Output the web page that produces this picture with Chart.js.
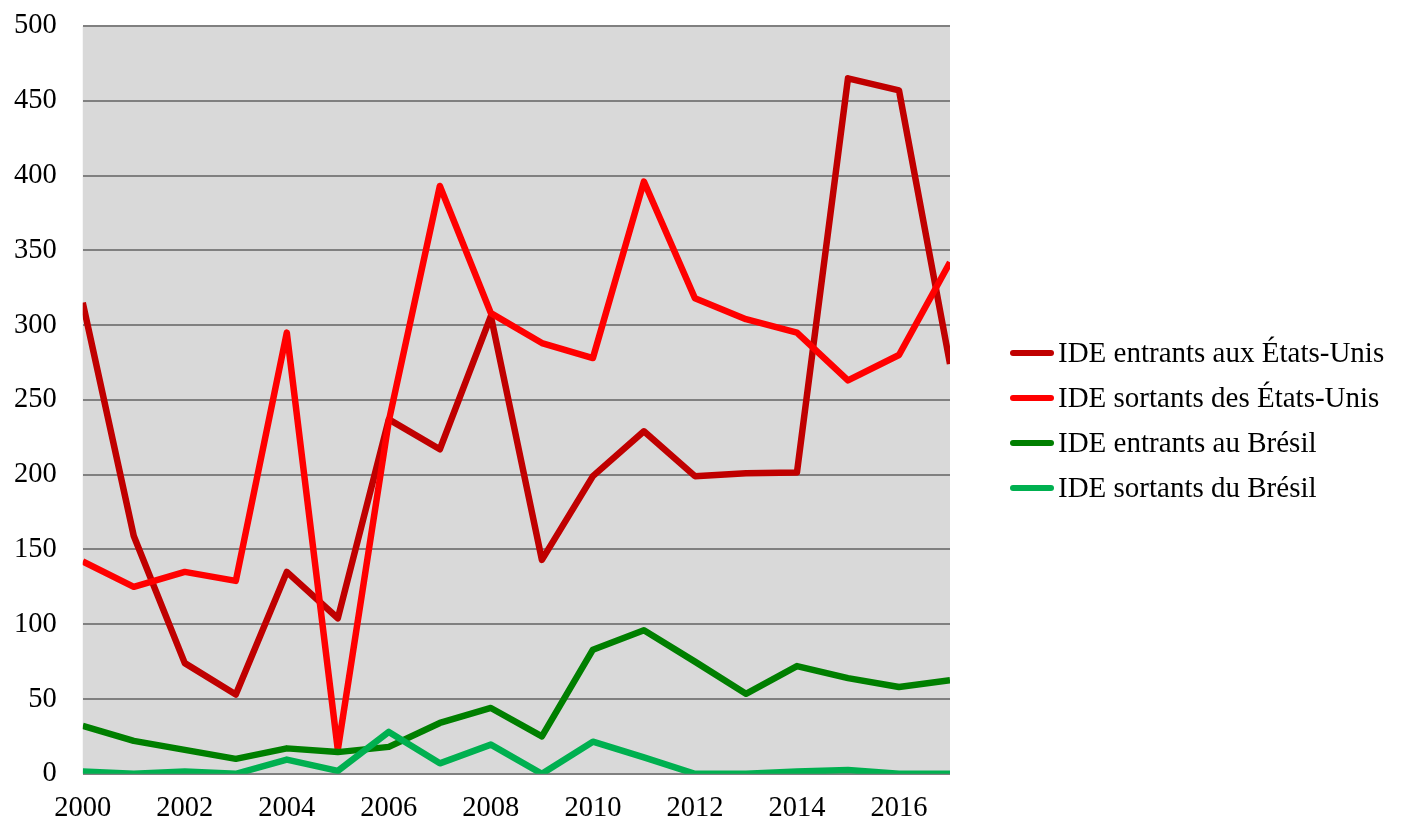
<!DOCTYPE html>
<html>
<head>
<meta charset="utf-8">
<script src="https://cdn.jsdelivr.net/npm/chart.js@4/dist/chart.umd.min.js"></script>
<style>
  body { margin: 0; background: #fff; }
  #wrap { position: relative; width: 1406px; height: 838px; }
  #legend { position: absolute; left: 1010px; top: 330px; font-family: "Liberation Serif", "Times New Roman", serif; font-size: 29px; color: #000; }
  .row { display: flex; align-items: center; height: 45px; white-space: nowrap; }
  .swatch { width: 44px; height: 6px; border-radius: 3px; margin-right: 4px; }
</style>
</head>
<body>
<div id="wrap">
  <canvas id="chart"></canvas>
  <div id="legend"></div>
</div>
<script>
const years = ["2000","2001","2002","2003","2004","2005","2006","2007","2008","2009","2010","2011","2012","2013","2014","2015","2016","2017"];
const usIn = [315, 159, 74, 53, 135, 104, 237, 217, 306, 143, 199, 229, 199, 201, 201.5, 465, 457, 274];
const usOut = [142, 125, 135, 129, 295, 16, 236, 393, 308, 288, 278, 396, 318, 304, 295, 263, 280, 342];
const brIn = [32, 22, 16, 10, 17, 14.5, 18, 34, 44, 25, 83, 96, 75, 53.5, 72, 64, 58, 62.5];
const brOut = [1.5, 0, 1.5, 0, 9.5, 2, 28, 7, 19.5, 0, 21.5, 11, 0, 0, 1.5, 2.5, 0, 0];
const seriesNames = ["IDE entrants aux États-Unis", "IDE sortants des États-Unis", "IDE entrants au Brésil", "IDE sortants du Brésil"];
const seriesColors = ["#C00000", "#FF0000", "#007F00", "#00B050"];

const FONT = "'Liberation Serif', 'Times New Roman', serif";

const plotBg = {
  id: "plotBg",
  beforeDraw(chart) {
    const { ctx, chartArea: a } = chart;
    ctx.save();
    ctx.fillStyle = "#D9D9D9";
    ctx.fillRect(a.left, a.top, a.right - a.left, a.bottom - a.top);
    ctx.restore();
  }
};

const values = [usIn, usOut, brIn, brOut];
const datasets = values.map((data, i) => ({
  label: seriesNames[i],
  data,
  borderColor: seriesColors[i],
  backgroundColor: seriesColors[i],
  borderWidth: 6.5,
  pointRadius: 0,
  tension: 0,
  borderJoinStyle: "round",
  clip: 0
})).reverse();

// chart.js counts tick padding twice when sizing an axis, hence the negative padding
new Chart(document.getElementById("chart"), {
  type: "line",
  data: { labels: years, datasets },
  options: {
    responsive: true,
    maintainAspectRatio: false,
    animation: false,
    layout: { padding: { left: -12, right: 456, top: 26, bottom: -6 } },
    plugins: { legend: { display: false }, tooltip: { enabled: false } },
    scales: {
      x: {
        offset: false,
        grid: { display: false, drawTicks: false },
        border: { display: false },
        afterFit: (s) => { s.paddingLeft = 0; s.paddingRight = 0; },
        ticks: {
          autoSkip: false,
          maxRotation: 0,
          padding: 18,
          color: "#000",
          font: { family: FONT, size: 28.5 },
          callback: (v, i) => (i % 2 === 0 && i < years.length - 1) ? years[i] : ""
        }
      },
      y: {
        min: 0,
        max: 500,
        grid: { color: "#808080", lineWidth: 2, drawTicks: false },
        border: { display: false },
        afterFit: (s) => { s.paddingTop = 0; s.paddingBottom = 0; },
        ticks: { stepSize: 50, padding: 26, color: "#000", font: { family: FONT, size: 28.5 } }
      }
    }
  },
  plugins: [plotBg]
});

const legend = document.getElementById("legend");
seriesNames.forEach((name, i) => {
  const row = document.createElement("div");
  row.className = "row";
  const sw = document.createElement("span");
  sw.className = "swatch";
  sw.style.background = seriesColors[i];
  const txt = document.createElement("span");
  txt.textContent = name;
  row.appendChild(sw);
  row.appendChild(txt);
  legend.appendChild(row);
});
</script>
</body>
</html>
